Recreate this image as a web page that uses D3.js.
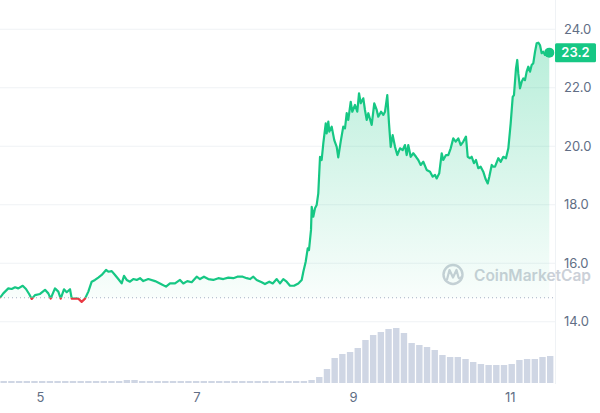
<!DOCTYPE html>
<html>
<head>
<meta charset="utf-8">
<script src="https://cdn.jsdelivr.net/npm/d3@7"></script>
<style>
html,body{margin:0;padding:0;background:#fff;}
svg{display:block;font-family:Inter,"Noto Sans",sans-serif;}
</style>
</head>
<body>
<svg id="chart" width="600" height="413"></svg>
<script>
// ---- data (time in days of month, price in USD) ----
const times = [4.490,4.532,4.596,4.639,4.682,4.724,4.780,4.822,4.864,4.895,4.937,5.001,5.065,5.107,5.137,5.192,5.235,5.265,5.307,5.342,5.384,5.406,5.448,5.490,5.533,5.576,5.618,5.661,5.703,5.745,5.789,5.844,5.873,5.917,5.959,6.001,6.044,6.074,6.108,6.150,6.192,6.236,6.278,6.320,6.384,6.470,6.533,6.610,6.661,6.725,6.789,6.831,6.882,6.938,7.002,7.044,7.095,7.150,7.214,7.278,7.342,7.406,7.470,7.521,7.590,7.641,7.683,7.725,7.768,7.832,7.874,7.929,7.973,8.024,8.066,8.108,8.151,8.194,8.245,8.300,8.343,8.364,8.394,8.420,8.436,8.462,8.471,8.491,8.513,8.534,8.555,8.577,8.598,8.619,8.650,8.662,8.683,8.696,8.726,8.759,8.790,8.810,8.841,8.874,8.896,8.918,8.938,8.969,8.989,9.024,9.053,9.075,9.097,9.130,9.151,9.173,9.194,9.237,9.270,9.301,9.321,9.356,9.385,9.407,9.436,9.458,9.480,9.505,9.535,9.564,9.598,9.633,9.662,9.684,9.704,9.735,9.768,9.803,9.832,9.863,9.896,9.939,9.982,10.016,10.046,10.067,10.100,10.131,10.151,10.186,10.215,10.246,10.279,10.310,10.343,10.374,10.407,10.441,10.463,10.492,10.514,10.543,10.569,10.598,10.629,10.662,10.693,10.719,10.739,10.770,10.790,10.812,10.854,10.885,10.918,10.952,10.982,11.012,11.038,11.054,11.080,11.096,11.109,11.131,11.153,11.173,11.195,11.216,11.237,11.259,11.280,11.301,11.323,11.344,11.365,11.386,11.408,11.428,11.450,11.479,11.505];
const prices = [14.82,14.97,15.14,15.12,15.18,15.14,15.23,15.12,14.94,14.78,14.91,14.95,15.09,14.97,14.79,15.14,15.03,14.79,15.11,15.01,15.11,14.79,14.80,14.79,14.68,14.79,15.03,15.37,15.43,15.51,15.60,15.77,15.71,15.73,15.60,15.46,15.31,15.57,15.43,15.37,15.46,15.43,15.49,15.39,15.46,15.39,15.31,15.20,15.31,15.31,15.43,15.31,15.39,15.35,15.54,15.46,15.54,15.46,15.43,15.49,15.46,15.51,15.49,15.54,15.54,15.49,15.46,15.54,15.43,15.35,15.29,15.37,15.31,15.46,15.31,15.46,15.37,15.23,15.23,15.31,15.43,15.71,16.05,16.51,16.45,17.14,17.93,17.59,17.88,17.99,18.39,19.64,19.53,20.10,20.78,20.44,20.84,20.50,20.67,20.21,19.98,19.62,20.16,20.67,20.61,21.13,20.90,21.52,21.18,21.41,21.18,21.81,21.47,21.64,21.24,20.90,21.13,20.73,21.47,21.24,21.01,21.18,21.07,21.18,21.75,20.78,19.98,20.38,19.98,19.70,19.93,19.87,20.04,19.70,20.04,19.64,19.76,19.64,19.53,19.36,19.47,19.19,19.13,18.96,19.02,18.90,19.08,19.76,19.53,19.70,19.70,19.93,20.27,20.16,20.27,20.04,20.16,20.33,19.64,19.59,19.64,19.42,19.53,19.25,19.30,19.13,18.87,18.73,18.96,19.36,19.30,19.30,19.59,19.47,19.64,19.59,19.93,20.78,21.69,21.75,22.67,22.95,22.49,21.98,22.21,22.32,22.26,22.55,22.72,22.55,22.78,22.84,23.23,23.52,23.54,23.46,23.18,23.23,23.12,23.15,23.20];
const openPrice = 14.82;
const lastPriceLabel = "23.2";
// volume (arbitrary units, millions), one bar per period
const volumes = [1,1,1,1,1,1,1,1,1,1,1,1,1,1,1,1,1.5,1.5,1,1,1,1,1,1,1,1,1,1,1,1,1,1,1,1,1,1,1,1,1,1,1.5,3,7,12.5,14.5,15.5,17.5,21.5,24,25.5,27,27.5,25,20,19,18,16.5,14,13,13,12,10.5,9.5,9,9,9,9.5,11.5,12,12,13,13.5];
const volStart = 4.49, volStepDays = 0.0983;
const yTicks = [24,22,20,18,16,14];
const xTicks = [5,7,9,11];

// ---- layout ----
const svg = d3.select("#chart");
const W = 600, H = 413;
const plotRight = 555;
const x = d3.scaleLinear().domain([4.49, 11.578]).range([0, plotRight]);
const y = d3.scaleLinear().domain([14, 24]).range([321.75, 29.25]);
const yVol = d3.scaleLinear().domain([0, 30]).range([383, 323]);
const green = "#16c784", red = "#ea3943", grid = "#eff2f5", txt = "#616e85";

const defs = svg.append("defs");
const grad = defs.append("linearGradient").attr("id","areaGrad").attr("gradientUnits","userSpaceOnUse")
  .attr("x1",0).attr("x2",0).attr("y1",y(24)).attr("y2",y(14));
grad.append("stop").attr("offset","0").attr("stop-color",green).attr("stop-opacity",0.32);
grad.append("stop").attr("offset","1").attr("stop-color",green).attr("stop-opacity",0.0);
defs.append("clipPath").attr("id","clipAbove").append("rect")
  .attr("x",-5).attr("y",0).attr("width",plotRight+10).attr("height",y(openPrice));
defs.append("clipPath").attr("id","clipBelow").append("rect")
  .attr("x",-5).attr("y",y(openPrice)).attr("width",plotRight+10).attr("height",H);

// gridlines
svg.append("g").selectAll("line").data(yTicks).join("line")
  .attr("x1",0).attr("x2",plotRight).attr("y1",d=>y(d)).attr("y2",d=>y(d))
  .attr("stroke",grid).attr("stroke-width",1);
svg.append("line").attr("x1",plotRight+0.5).attr("x2",plotRight+0.5).attr("y1",0).attr("y2",384)
  .attr("stroke",grid).attr("stroke-width",1);

// volume bars
const bw = x(volStart+volStepDays) - x(volStart);
svg.append("g").selectAll("rect").data(volumes).join("rect")
  .attr("x",(d,i)=>x(volStart + i*volStepDays)+0.5)
  .attr("width",bw-1.3)
  .attr("y",d=>yVol(d))
  .attr("height",d=>yVol(0)-yVol(d))
  .attr("fill","#cfd6e4");

// watermark
const wm = svg.append("g").attr("opacity",0.9);
wm.append("circle").attr("cx",453).attr("cy",274.5).attr("r",9.5)
  .attr("fill","none").attr("stroke","#c6cbd4").attr("stroke-width",2.4);
wm.append("path").attr("d","M447,279.5 L449.5,270 L453,277.5 L456.5,270 L458.5,277.5 Q459.5,279.5 461,277.5")
  .attr("fill","none").attr("stroke","#c6cbd4").attr("stroke-width",2.2).attr("stroke-linejoin","round").attr("stroke-linecap","round");
wm.append("text").attr("x",474).attr("y",281).attr("font-size",15.5).attr("font-weight",600)
  .attr("fill","#c6cbd4").attr("textLength",117).attr("lengthAdjust","spacingAndGlyphs").text("CoinMarketCap");

// area
const pts = times.map((t,i)=>({t, p: prices[i]}));
const area = d3.area().x(d=>x(d.t)).y0(y(14)).y1(d=>y(d.p));
svg.append("path").datum(pts).attr("d",area).attr("fill","url(#areaGrad)").attr("clip-path","url(#clipAbove)");

// baseline dotted
svg.append("line").attr("x1",0).attr("x2",plotRight).attr("y1",y(openPrice)).attr("y2",y(openPrice))
  .attr("stroke","#a6b0c3").attr("stroke-width",1).attr("stroke-dasharray","1,3");

// line
const line = d3.line().x(d=>x(d.t)).y(d=>y(d.p));
svg.append("path").datum(pts).attr("d",line).attr("fill","none").attr("stroke",green)
  .attr("stroke-width",2.2).attr("stroke-linejoin","round").attr("clip-path","url(#clipAbove)");
svg.append("path").datum(pts).attr("d",line).attr("fill","none").attr("stroke",red)
  .attr("stroke-width",2.2).attr("stroke-linejoin","round").attr("clip-path","url(#clipBelow)");

// end dot
const last = pts[pts.length-1];
svg.append("circle").attr("cx",x(last.t)).attr("cy",y(last.p)).attr("r",5).attr("fill",green);

// y labels
svg.append("g").selectAll("text").data(yTicks).join("text")
  .attr("x",564).attr("y",d=>y(d)).attr("dy","0.35em").attr("font-size",13)
  .attr("fill",txt).text(d=>d.toFixed(1));

// price tag
svg.append("rect").attr("x",555).attr("y",y(last.p)-9.5).attr("width",41).attr("height",19).attr("rx",1.5).attr("fill",green);
svg.append("text").attr("x",575.5).attr("y",y(last.p)).attr("dy","0.36em").attr("text-anchor","middle")
  .attr("font-size",13).attr("font-weight",600).attr("fill","#fff").text(lastPriceLabel);

// x labels
const xAxis = d3.axisBottom(x).tickValues(xTicks).tickSize(0).tickPadding(0).tickFormat(d3.format("d"));
const gx = svg.append("g").attr("transform","translate(0,393)").call(xAxis);
gx.select(".domain").remove();
gx.selectAll("text").attr("font-size",13).attr("fill",txt).attr("font-family","Inter,'Noto Sans',sans-serif").attr("dy","0.71em");
</script>
</body>
</html>
